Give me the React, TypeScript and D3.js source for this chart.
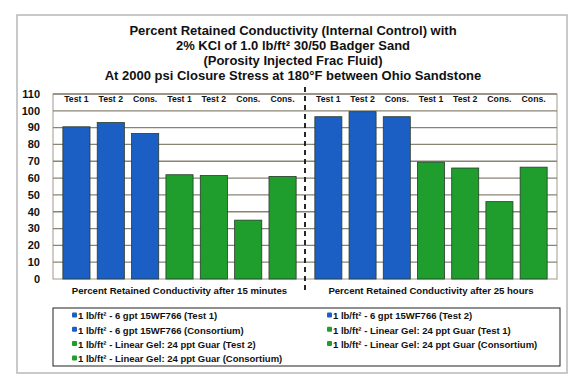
import React, { useEffect, useRef } from 'react';
import * as d3 from 'd3';

// chart data
const titleLines = [
    "Percent Retained Conductivity (Internal Control) with",
    "2% KCl of 1.0 lb/ft² 30/50 Badger Sand",
    "(Porosity Injected Frac Fluid)",
    "At 2000 psi Closure Stress at 180°F between Ohio Sandstone",
];
const groupNames = [
    "Percent Retained Conductivity after 15 minutes",
    "Percent Retained Conductivity after 25 hours",
];
const barLabels = ["Test 1", "Test 2", "Cons.", "Test 1", "Test 2", "Cons.", "Cons."];
const seriesNames = [
    "1 lb/ft² - 6 gpt 15WF766 (Test 1)",
    "1 lb/ft² - 6 gpt 15WF766 (Test 2)",
    "1 lb/ft² - 6 gpt 15WF766 (Consortium)",
    "1 lb/ft² - Linear Gel: 24 ppt Guar (Test 1)",
    "1 lb/ft² - Linear Gel: 24 ppt Guar (Test 2)",
    "1 lb/ft² - Linear Gel: 24 ppt Guar (Consortium)",
    "1 lb/ft² - Linear Gel: 24 ppt Guar (Consortium)",
];
const seriesKind = ["blue", "blue", "blue", "green", "green", "green", "green"];
const after15min = [90.5, 93, 86.5, 62, 61.5, 35, 61];
const after25hr = [96.5, 99.5, 96.5, 69.5, 66, 46, 66.5];
const yTicks = [0, 10, 20, 30, 40, 50, 60, 70, 80, 90, 100, 110];

const colors: Record<string, string> = { blue: "#1b5fc4", green: "#1f9e2e" };

const App: React.FC = () => {
    const ref = useRef<SVGSVGElement | null>(null);

    useEffect(() => {
        if (!ref.current) return;
        const svg = d3.select(ref.current);
        svg.selectAll("*").remove();

        const font = "'Liberation Sans', Arial, sans-serif";
        const plot = { left: 53, right: 557, top: 94, bottom: 279 };
        const divider = 305;

        // outer frame
        svg.append("rect").attr("x", 17).attr("y", 15).attr("width", 550).attr("height", 358)
            .attr("fill", "#fff").attr("stroke", "#b8b8b8").attr("stroke-width", 1.5);

        // title
        titleLines.forEach((t, i) => {
            svg.append("text").attr("x", 293).attr("y", 35 + i * 15)
                .attr("text-anchor", "middle").attr("font-family", font)
                .attr("font-weight", "bold").attr("font-size", 13).attr("fill", "#111").text(t);
        });

        const y = d3.scaleLinear().domain([0, 110]).range([plot.bottom, plot.top]);

        // plot border
        svg.append("rect").attr("x", plot.left).attr("y", plot.top)
            .attr("width", plot.right - plot.left).attr("height", plot.bottom - plot.top)
            .attr("fill", "#fff").attr("stroke", "#a09a8c").attr("stroke-width", 1);

        // grid lines
        svg.append("g").selectAll("line").data(yTicks.slice(1)).join("line")
            .attr("x1", plot.left).attr("x2", plot.right)
            .attr("y1", d => y(d)).attr("y2", d => y(d))
            .attr("stroke", "#8a8475").attr("stroke-width", 1.3);

        // y axis labels
        svg.append("g").selectAll("text").data(yTicks).join("text")
            .attr("x", 40).attr("y", d => y(d)).attr("dy", "0.35em")
            .attr("text-anchor", "end").attr("font-family", font).attr("font-weight", "bold")
            .attr("font-size", 11).attr("fill", "#111").text(d => d);

        const groupRanges: [number, number][] = [[56, 303], [308, 554]];
        const groupData = [after15min, after25hr];

        groupData.forEach((vals, g) => {
            const x = d3.scaleBand<number>().domain(d3.range(vals.length))
                .range(groupRanges[g]).paddingInner(0.21).paddingOuter(0.2);

            svg.append("g").selectAll("rect").data(vals).join("rect")
                .attr("x", (_, i) => x(i)!).attr("width", x.bandwidth())
                .attr("y", d => y(d)).attr("height", d => y(0) - y(d))
                .attr("fill", (_, i) => colors[seriesKind[i]])
                .attr("stroke", "#2a3a2a").attr("stroke-width", 0.8);

            svg.append("g").selectAll("text").data(barLabels).join("text")
                .attr("x", (_, i) => x(i)! + x.bandwidth() / 2).attr("y", 101.5)
                .attr("text-anchor", "middle").attr("font-family", font).attr("font-weight", "bold")
                .attr("font-size", 8.7).attr("fill", "#111").text(d => d);

            svg.append("text")
                .attr("x", (groupRanges[g][0] + groupRanges[g][1]) / 2).attr("y", 294)
                .attr("text-anchor", "middle").attr("font-family", font).attr("font-weight", "bold")
                .attr("font-size", 9.6).attr("fill", "#111").text(groupNames[g]);
        });

        // dashed divider between the two groups
        svg.append("line").attr("x1", divider).attr("x2", divider).attr("y1", 87).attr("y2", 293)
            .attr("stroke", "#111").attr("stroke-width", 1.8).attr("stroke-dasharray", "5,4");

        // legend
        svg.append("rect").attr("x", 53).attr("y", 308).attr("width", 507).attr("height", 58)
            .attr("fill", "#fff").attr("stroke", "#222").attr("stroke-width", 1);

        const legend = svg.append("g").selectAll("g").data(seriesNames).join("g")
            .attr("transform", (_, i) => `translate(${i % 2 === 0 ? 72 : 327},${316 + Math.floor(i / 2) * 14.3})`);
        legend.append("rect").attr("x", 0).attr("y", -3.5).attr("width", 5).attr("height", 5).attr("rx", 1)
            .attr("fill", (_, i) => colors[seriesKind[i]]);
        legend.append("text").attr("x", 6).attr("y", 0).attr("dy", "0.35em")
            .attr("font-family", font).attr("font-weight", "bold").attr("font-size", 9.5)
            .attr("fill", "#111").text(d => d);
    }, []);

    return (
        <svg ref={ref} width={588} height={387}
            style={{ position: 'absolute', left: 0, top: 0, background: '#fff' }} />
    );
};

export default App;
